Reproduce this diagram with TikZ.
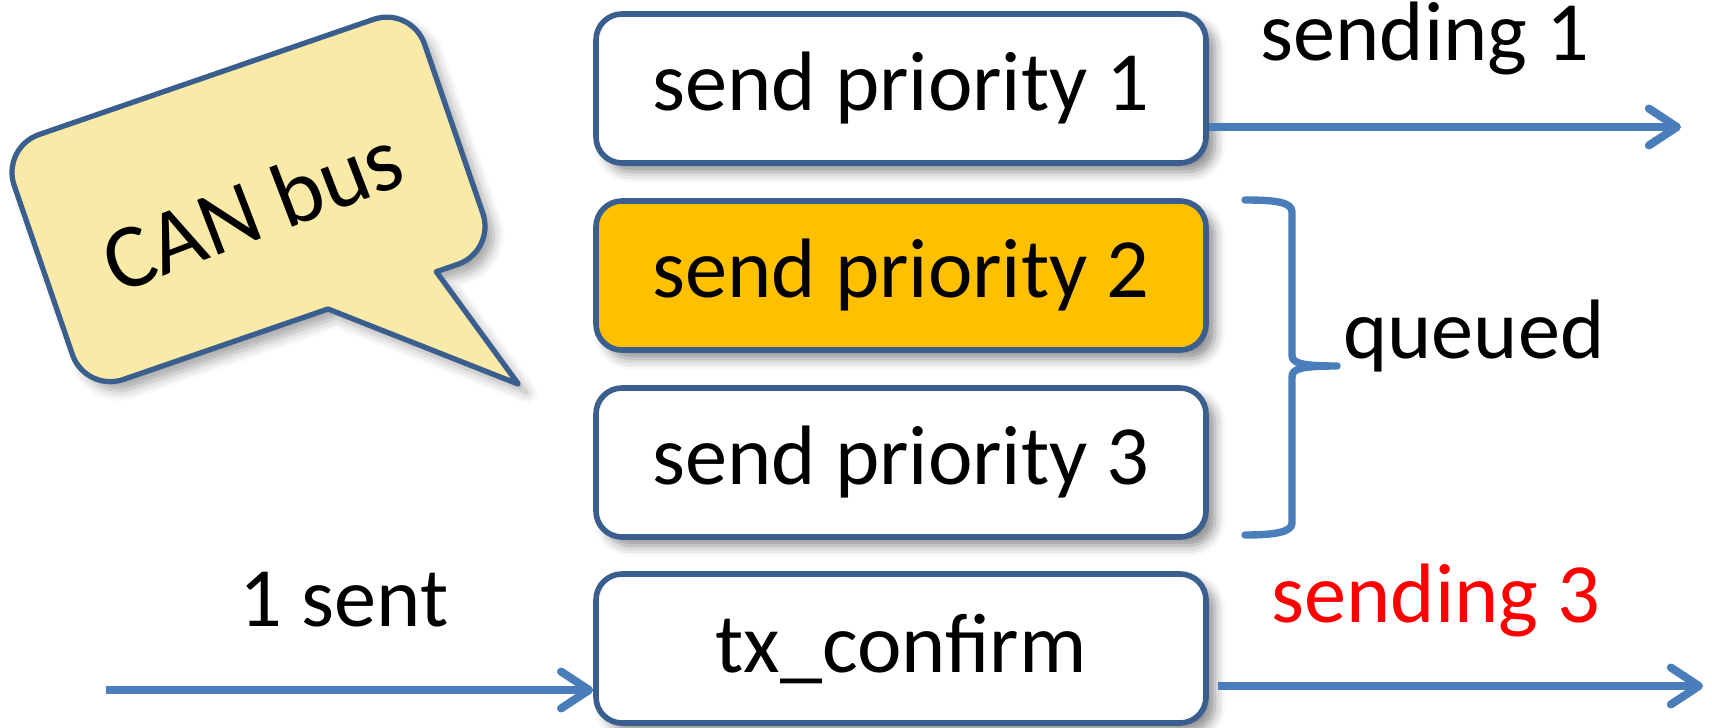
\documentclass[tikz,border=0pt]{standalone}
\usepackage{fontspec}
\setmainfont{Carlito}
\usetikzlibrary{arrows.meta,shadows.blur,calc}
\definecolor{boxline}{HTML}{3A5F8F}
\definecolor{arrowblue}{HTML}{4A7EBB}
\definecolor{qorange}{HTML}{FFC000}
\definecolor{bubblefill}{HTML}{F9EAA8}
\tikzset{
  stepbox/.style={draw=boxline, line width=1.6pt, rounded corners=0.26cm, fill=white,
    minimum width=6.1cm, minimum height=1.49cm, inner sep=0pt,
    font=\fontsize{24}{28}\selectfont,
    blur shadow={shadow xshift=2.5pt, shadow yshift=-2.5pt, shadow blur radius=3pt, shadow opacity=45}},
  lbl/.style={font=\fontsize{24}{28}\selectfont, inner sep=0pt},
  flow/.style={draw=arrowblue, line width=2.3pt, -{Straight Barb[length=8pt, width=10.5pt, line width=2.3pt, round]}},
}
\begin{document}
\begin{tikzpicture}
\useasboundingbox (0,0) rectangle (17.12,7.27);
% speech bubble
\begin{scope}[shift={(2.485,5.276)}, rotate=19]
  \draw[draw=boxline, line width=1.5pt, fill=bubblefill, line join=round,
        blur shadow={shadow xshift=2.5pt, shadow yshift=-2.5pt, shadow blur radius=3pt, shadow opacity=35}]
    (0.395,-1.295) -- (-1.77,-1.295) arc[start angle=270, end angle=180, radius=0.4]
    -- (-2.17,0.895) arc[start angle=180, end angle=90, radius=0.4]
    -- (1.77,1.295) arc[start angle=90, end angle=0, radius=0.4]
    -- (2.17,-0.895) arc[start angle=0, end angle=-90, radius=0.4]
    -- (1.54,-1.295) -- (1.95,-2.625) -- cycle;
\end{scope}
\node[lbl, font=\fontsize{26}{30}\selectfont, rotate=21] (can) at (2.52,5.18) {CAN bus};
% boxes
\node[stepbox] (b1) at (9.01,6.385) {send priority 1};
\node[stepbox, fill=qorange] (b2) at (9.01,4.515) {send priority 2};
\node[stepbox] (b3) at (9.01,2.645) {send priority 3};
\node[stepbox] (b4) at (9.01,0.785) {tx\_confirm};
% labels
\node[lbl] (s1) at (14.25,6.89) {sending 1};
\node[lbl] (q) at (14.74,3.91) {queued};
\node[lbl] (sent) at (3.44,1.27) {1 sent};
\node[lbl, text=red] (s3) at (14.36,1.27) {sending 3};
% connectors
\coordinate (e1) at (16.81,6.00);
\coordinate (s4) at (1.06,0.37);
\coordinate (e4) at (17.03,0.41);
\draw[flow] (b1.east |- e1) -- (e1);
\draw[flow] (s4) -- (b4.west |- s4);
\draw[flow] ([xshift=0.09cm]b4.east |- e4) -- (e4);
% brace
\draw[draw=arrowblue, line width=2.1pt, line cap=round, line join=round]
  (12.45,5.27) .. controls (12.75,5.27) and (12.92,5.25) .. (12.92,5.15) -- (12.92,3.72)
  .. controls (12.92,3.64) and (13.0,3.61) .. (13.37,3.61)
  .. controls (13.0,3.61) and (12.92,3.58) .. (12.92,3.50) -- (12.92,2.04)
  .. controls (12.92,1.95) and (12.75,1.92) .. (12.45,1.92);
\end{tikzpicture}
\end{document}
